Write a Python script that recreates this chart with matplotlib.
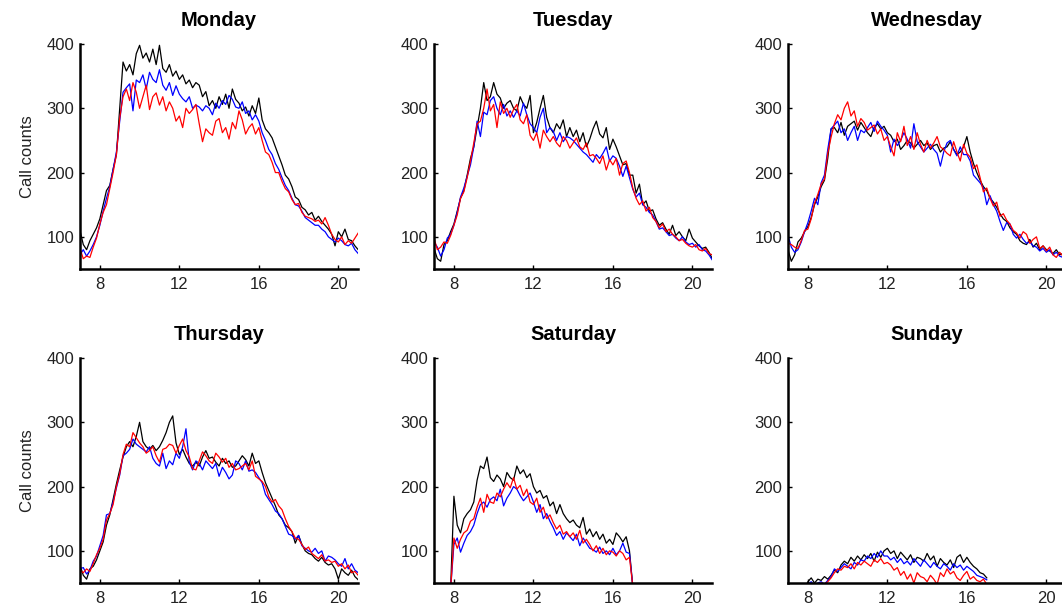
import matplotlib
matplotlib.use('Agg')
import matplotlib.pyplot as plt
import numpy as np

plt.rcParams['font.family'] = ['Liberation Sans', 'DejaVu Sans']

# 10 minute bins from 7:00 to 21:00
hours = np.linspace(7, 21, 85)
# weekend days only run 7:50 .. 17:00
short_hours = hours[5:61]

mon_black = [110, 88, 80, 94, 104, 114,
             128, 150, 172, 180, 205, 228,
             300, 372, 358, 368, 352, 385,
             398, 378, 386, 372, 392, 368,
             398, 362, 356, 368, 350, 358,
             345, 352, 338, 344, 332, 340,
             336, 318, 326, 304, 312, 300,
             318, 306, 322, 300, 330, 314,
             308, 296, 302, 288, 304, 292,
             316, 282, 268, 262, 254, 240,
             226, 212, 196, 190, 178, 162,
             158, 146, 142, 134, 138, 126,
             132, 124, 118, 112, 104, 86,
             108, 100, 112, 96, 94, 86,
             80]
mon_blue = [72, 80, 70, 78, 88, 100,
            118, 140, 160, 178, 205, 232,
            280, 325, 332, 338, 296, 344,
            340, 352, 330, 356, 345, 340,
            360, 336, 328, 340, 320, 335,
            322, 315, 310, 318, 300, 305,
            302, 296, 304, 300, 290, 308,
            300, 312, 306, 320, 314, 302,
            300, 310, 292, 296, 282, 290,
            280, 262, 250, 236, 228, 214,
            205, 192, 180, 172, 160, 150,
            148, 140, 130, 126, 122, 118,
            118, 112, 108, 100, 96, 92,
            98, 94, 88, 86, 90, 80,
            74]
mon_red = [82, 66, 70, 68, 84, 98,
           120, 138, 150, 175, 200, 228,
           285, 318, 330, 312, 340, 325,
           300, 318, 336, 298, 318, 324,
           305, 318, 296, 310, 300, 280,
           288, 270, 300, 292, 298, 306,
           276, 248, 268, 262, 258, 280,
           284, 262, 270, 252, 278, 268,
           296, 282, 260, 270, 276, 260,
           270, 250, 232, 228, 216, 200,
           200, 186, 175, 170, 158, 150,
           152, 138, 132, 130, 128, 124,
           126, 120, 130, 118, 104, 96,
           92, 100, 88, 94, 90, 98,
           106]

tue_black = [82, 66, 62, 88, 94, 108,
             120, 140, 160, 172, 196, 222,
             240, 270, 300, 340, 312, 318,
             340, 322, 316, 300, 308, 312,
             300, 296, 318, 306, 300, 320,
             262, 278, 300, 320, 286, 270,
             262, 276, 268, 282, 256, 270,
             256, 266, 248, 262, 240, 252,
             268, 280, 260, 254, 270, 236,
             252, 240, 226, 212, 214, 196,
             196, 168, 182, 150, 156, 140,
             142, 128, 118, 122, 112, 104,
             118, 102, 108, 100, 94, 112,
             98, 92, 86, 82, 84, 76,
             66]
tue_blue = [92, 84, 70, 80, 98, 104,
            118, 138, 162, 176, 194, 212,
            240, 280, 256, 294, 290, 312,
            318, 300, 290, 306, 288, 296,
            286, 296, 288, 308, 290, 276,
            270, 262, 286, 300, 262, 270,
            264, 250, 262, 248, 256, 254,
            250, 244, 238, 232, 228, 222,
            216, 228, 222, 230, 240, 218,
            226, 222, 210, 194, 210, 192,
            174, 162, 168, 150, 146, 138,
            134, 124, 112, 114, 108, 102,
            104, 98, 94, 100, 92, 88,
            90, 84, 88, 80, 78, 72,
            64]
tue_red = [98, 80, 84, 92, 90, 102,
           118, 134, 160, 170, 192, 218,
           246, 276, 280, 300, 330, 296,
           306, 270, 310, 292, 300, 286,
           298, 306, 282, 276, 290, 258,
           250, 262, 238, 266, 256, 248,
           256, 246, 240, 256, 250, 238,
           246, 254, 240, 236, 246, 226,
           228, 222, 214, 226, 204, 220,
           212, 222, 196, 214, 218, 200,
           176, 160, 150, 156, 140, 146,
           130, 124, 114, 120, 108, 112,
           104, 100, 94, 96, 90, 86,
           84, 88, 80, 78, 82, 74,
           72]

wed_black = [80, 62, 72, 92, 98, 108,
             116, 130, 150, 162, 178, 188,
             222, 268, 270, 262, 278, 258,
             272, 276, 280, 266, 278, 270,
             262, 256, 270, 276, 268, 272,
             262, 258, 248, 252, 236, 242,
             250, 246, 238, 244, 250, 242,
             246, 236, 242, 244, 232, 238,
             240, 248, 236, 228, 232, 240,
             256, 232, 214, 200, 188, 178,
             172, 160, 154, 146, 136, 128,
             124, 114, 108, 104, 94, 90,
             88, 96, 84, 90, 80, 86,
             80, 78, 74, 80, 72, 74,
             70]
wed_blue = [102, 84, 76, 80, 92, 108,
            122, 140, 160, 150, 184, 196,
            236, 268, 274, 280, 262, 268,
            250, 262, 272, 250, 266, 262,
            270, 278, 264, 280, 272, 266,
            258, 232, 252, 242, 250, 262,
            252, 238, 276, 248, 240, 232,
            238, 244, 236, 230, 210, 232,
            246, 250, 236, 226, 240, 228,
            228, 218, 196, 190, 184, 176,
            150, 164, 150, 140, 124, 110,
            122, 120, 104, 98, 104, 96,
            90, 92, 86, 84, 78, 82,
            76, 80, 72, 76, 70, 68,
            68]
wed_red = [90, 88, 84, 82, 94, 110,
           112, 128, 152, 166, 182, 190,
           230, 255, 276, 290, 282, 300,
           310, 288, 296, 272, 284, 278,
           266, 270, 274, 260, 268, 250,
           256, 240, 226, 262, 248, 272,
           242, 256, 236, 262, 244, 232,
           250, 238, 246, 256, 240, 236,
           230, 226, 248, 232, 218, 244,
           230, 224, 206, 212, 192, 170,
           176, 160, 148, 154, 132, 136,
           126, 120, 110, 106, 98, 108,
           104, 90, 96, 100, 82, 86,
           78, 84, 72, 68, 76, 70,
           70]

thu_black = [78, 62, 56, 72, 76, 86,
             100, 114, 140, 156, 180, 204,
             226, 246, 262, 270, 262, 278,
             300, 270, 262, 258, 264, 256,
             262, 272, 284, 300, 310, 268,
             250, 258, 246, 236, 232, 238,
             232, 246, 256, 244, 246, 238,
             232, 244, 236, 240, 230, 232,
             240, 248, 242, 232, 252, 236,
             240, 222, 206, 194, 182, 170,
             156, 150, 140, 136, 130, 112,
             124, 110, 100, 96, 94, 88,
             84, 90, 82, 78, 80, 72,
             56, 72, 66, 62, 70, 60,
             55]
thu_blue = [72, 74, 64, 70, 84, 92,
            108, 124, 156, 158, 176, 198,
            218, 248, 252, 258, 274, 266,
            262, 258, 254, 262, 244, 236,
            232, 252, 228, 240, 234, 252,
            244, 262, 290, 238, 226, 240,
            236, 226, 240, 234, 228, 236,
            216, 230, 222, 212, 218, 240,
            236, 226, 240, 224, 226, 222,
            214, 206, 188, 180, 172, 162,
            158, 150, 138, 126, 124, 118,
            124, 108, 104, 100, 98, 104,
            96, 100, 84, 92, 90, 86,
            80, 76, 88, 72, 80, 70,
            66]
thu_red = [70, 66, 72, 68, 80, 94,
           104, 118, 148, 158, 172, 200,
           220, 250, 266, 262, 284, 276,
           268, 262, 252, 256, 262, 248,
           238, 258, 260, 266, 264, 252,
           264, 274, 256, 246, 228, 226,
           240, 254, 248, 240, 236, 252,
           246, 238, 244, 230, 236, 226,
           228, 232, 236, 226, 240, 216,
           212, 208, 200, 184, 176, 180,
           170, 164, 150, 138, 130, 120,
           118, 110, 102, 106, 96, 92,
           88, 94, 84, 86, 82, 84,
           76, 80, 72, 78, 66, 68,
           62]

sat_black = [40,
             185, 140, 128, 150, 158, 164,
             176, 210, 232, 228, 246, 214,
             208, 218, 212, 200, 222, 214,
             210, 232, 220, 226, 214, 220,
             200, 190, 194, 182, 186, 170,
             176, 158, 172, 158, 150, 144,
             148, 140, 136, 152, 126, 134,
             122, 130, 118, 126, 112, 118,
             110, 128, 122, 114, 122, 100,
             45]
sat_blue = [40,
            110, 120, 98, 112, 124, 130,
            140, 158, 172, 176, 168, 180,
            184, 178, 196, 170, 182, 190,
            200, 196, 186, 178, 184, 190,
            176, 160, 172, 150, 158, 146,
            136, 124, 130, 118, 128, 122,
            116, 126, 108, 120, 112, 104,
            102, 98, 106, 96, 100, 94,
            104, 94, 100, 112, 98, 96,
            45]
sat_red = [40,
           120, 104, 118, 128, 132, 146,
           150, 168, 182, 160, 188, 176,
           174, 190, 184, 196, 206, 198,
           214, 196, 202, 186, 196, 176,
           172, 182, 160, 168, 150, 156,
           144, 134, 140, 126, 130, 122,
           128, 118, 132, 112, 118, 110,
           100, 108, 96, 104, 94, 100,
           98, 92, 100, 96, 86, 90,
           45]

sun_black = [40,
             52, 58, 50, 56, 54, 60,
             56, 62, 70, 66, 78, 84,
             80, 90, 84, 92, 86, 94,
             88, 96, 84, 98, 90, 100,
             104, 96, 100, 88, 98, 92,
             86, 94, 82, 90, 88, 84,
             96, 86, 92, 76, 88, 82,
             78, 86, 74, 90, 94, 82,
             90, 82, 76, 72, 66, 64,
             58]
sun_blue = [40,
            48, 52, 46, 50, 52, 48,
            54, 60, 72, 68, 74, 80,
            76, 72, 82, 78, 86, 84,
            92, 88, 96, 90, 100, 92,
            92, 86, 90, 82, 88, 80,
            84, 78, 88, 82, 76, 86,
            80, 74, 82, 76, 72, 80,
            76, 70, 80, 74, 78, 70,
            76, 72, 68, 62, 60, 58,
            55]
sun_red = [40,
           40, 44, 48, 46, 50, 48,
           52, 58, 66, 72, 70, 76,
           74, 80, 72, 82, 78, 84,
           80, 76, 86, 82, 88, 80,
           82, 78, 70, 74, 62, 68,
           56, 64, 50, 66, 60, 58,
           52, 62, 56, 48, 66, 60,
           72, 64, 68, 58, 54, 62,
           68, 56, 60, 54, 52, 56,
           48]

days = ['Monday', 'Tuesday', 'Wednesday', 'Thursday', 'Saturday', 'Sunday']
series = {
    'Monday': (mon_black, mon_blue, mon_red),
    'Tuesday': (tue_black, tue_blue, tue_red),
    'Wednesday': (wed_black, wed_blue, wed_red),
    'Thursday': (thu_black, thu_blue, thu_red),
    'Saturday': (sat_black, sat_blue, sat_red),
    'Sunday': (sun_black, sun_blue, sun_red),
}

fig = plt.figure(figsize=(10.62, 6.08), dpi=100)
lefts = [0.0753, 0.4087, 0.742]
bottoms = [0.5576, 0.0411]

for i, day in enumerate(days):
    ax = fig.add_axes([lefts[i % 3], bottoms[i // 3], 0.262, 0.37])
    k, b, r = series[day]
    x = hours if len(k) == len(hours) else short_hours
    ax.plot(x, k, color='black', lw=0.9)
    ax.plot(x, b, color='blue', lw=0.9)
    ax.plot(x, r, color='red', lw=0.9)

    ax.set_xlim(7, 21)
    ax.set_ylim(50, 400)
    ax.set_xticks([8, 12, 16, 20])
    ax.set_yticks([100, 200, 300, 400])
    ax.spines['top'].set_visible(False)
    ax.spines['right'].set_visible(False)
    ax.spines['left'].set_linewidth(1.8)
    ax.spines['bottom'].set_linewidth(1.8)
    ax.tick_params(direction='in', length=3, width=1, labelsize=12,
                   labelcolor='#222222')
    ax.tick_params(axis='x', pad=6)
    ax.tick_params(axis='y', pad=4)
    ax.set_title(day, fontweight='bold', fontsize=14.5, pad=13)
    if i % 3 == 0:
        ax.set_ylabel('Call counts', fontsize=12, labelpad=8, color='#222222')

fig.savefig('out.png', dpi=100)
